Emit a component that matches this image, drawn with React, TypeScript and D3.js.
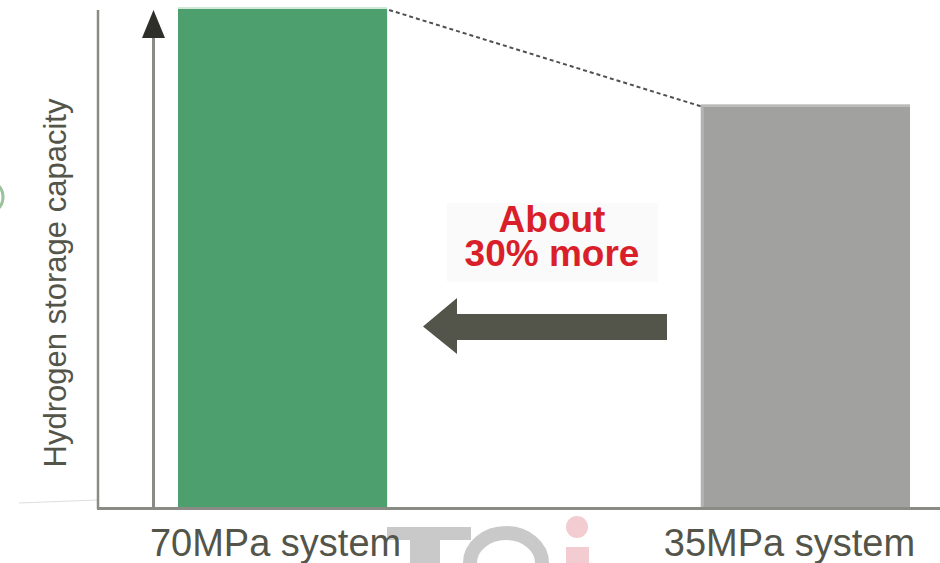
import React from "react";
import * as d3 from "d3";

const categories = ["70MPa system", "35MPa system"];
const values = [100, 80.5];
const barColors = ["#4e9f6e", "#a1a1a0"];
const annotationLines = ["About", "30% more"];
const yAxisLabel = "Hydrogen storage capacity";

const W = 940;
const H = 563;

export default function App() {
  const y = d3.scaleLinear().domain([0, 100]).range([508, 9]);
  const x = d3.scaleBand<string>().domain(categories).range([178, 910]).paddingInner(0.6).paddingOuter(0);
  const bw = x.bandwidth();
  const axisColor = "#8b8b86";
  const textColor = "#54554a";
  const labelOffsets = [-7, -16];

  const x0 = x(categories[0])! + bw;
  const y0 = y(values[0]);
  const x1 = x(categories[1])!;
  const y1 = y(values[1]);

  return (
    <svg width={W} height={H} style={{ position: "absolute", left: 0, top: 0, background: "#fff" }}
      fontFamily="'Liberation Sans', Arial, sans-serif">
      {/* faint background watermark */}
      <g>
        <line x1={19} y1={503} x2={97} y2={500} stroke="#dedede" strokeWidth={1} />
        <circle cx={-14} cy={197} r={17} fill="none" stroke="#5a9a5a" strokeWidth={3} opacity={0.6} />
        <rect x={387} y={527} width={84} height={13} fill="#c9c9c9" />
        <rect x={410} y={527} width={30} height={40} fill="#c9c9c9" />
        <path d="M470,563 A36,30 0 0 1 542,563" fill="none" stroke="#c9c9c9" strokeWidth={14} />
        <circle cx={577} cy={527} r={11} fill="#f2ccd0" />
        <rect x={566} y={547} width={23} height={20} fill="#f2ccd0" />
      </g>

      {/* bars */}
      {categories.map((c, i) => (
        <g key={c}>
          <rect x={x(c)} y={y(values[i])} width={bw} height={y(0) - y(values[i])} fill={barColors[i]} />
          <rect x={x(c)} y={y(values[i]) - 2} width={bw} height={2} fill={i === 0 ? "#cfe8d8" : "#bababa"} />
          {i === 1 && <rect x={x(c)} y={y(values[i])} width={3} height={y(0) - y(values[i])} fill="#b3b3b3" />}
        </g>
      ))}

      {/* dashed connector */}
      <line x1={x0 + 2} y1={y0 + 1} x2={x1} y2={y1} stroke="#505050" strokeWidth={2} strokeDasharray="4 3" />

      {/* axes */}
      <line x1={98} y1={y(100) + 1} x2={98} y2={509} stroke={axisColor} strokeWidth={2.5} />
      <line x1={97} y1={508.5} x2={W} y2={508.5} stroke={axisColor} strokeWidth={3} />

      {/* inner up arrow */}
      <line x1={153.5} y1={508} x2={153.5} y2={36} stroke={axisColor} strokeWidth={3} />
      <path d="M153.5,10 L165,38 L142,38 Z" fill="#2f2f2a" />

      {/* y label */}
      <text transform={`translate(66,283) rotate(-90)`} textAnchor="middle" fontSize={31} fill={textColor}>
        {yAxisLabel}
      </text>

      {/* category labels */}
      {categories.map((c, i) => (
        <text key={c} x={x(c)! + bw / 2 + labelOffsets[i]} y={556} textAnchor="middle" fontSize={38} fill={textColor}>
          {c}
        </text>
      ))}

      {/* annotation */}
      <rect x={447} y={203} width={211} height={79} fill="#fafafa" />
      {annotationLines.map((t, i) => (
        <text key={t} x={552} y={232 + i * 33.5} textAnchor="middle" fontSize={37} fontWeight="bold" fill="#d91f2a">
          {t}
        </text>
      ))}

      {/* left arrow */}
      <path d="M667,314 L457,314 L457,298 L423,326.5 L457,354 L457,340 L667,340 Z" fill="#53554a" />
    </svg>
  );
}
